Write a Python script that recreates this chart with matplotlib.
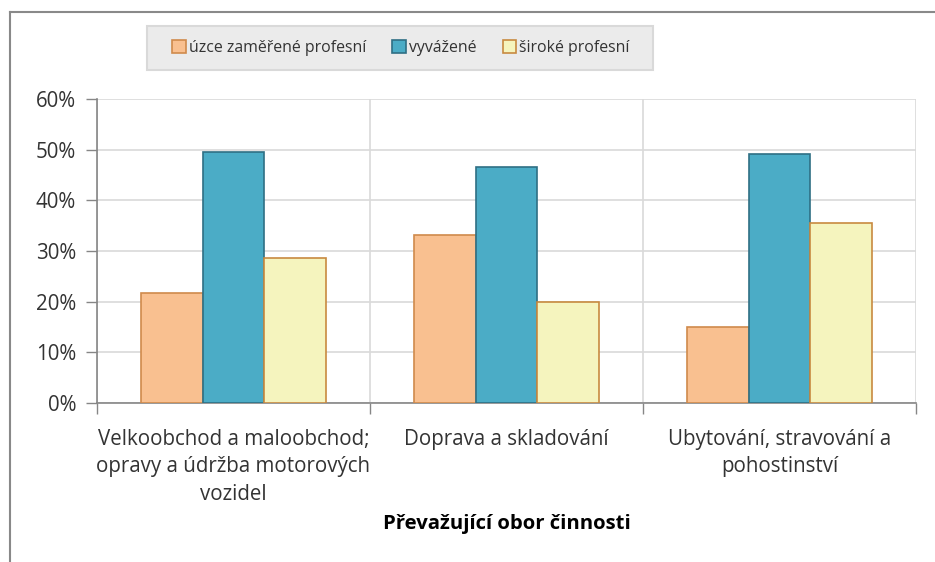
import numpy as np
import matplotlib
matplotlib.use('Agg')
import matplotlib.pyplot as plt
from matplotlib.lines import Line2D
from matplotlib.patches import Rectangle
from matplotlib.ticker import FuncFormatter

plt.rcParams['font.family'] = ['Open Sans', 'DejaVu Sans']

# data (shares, in %)
categories = ['Velkoobchod a maloobchod;\nopravy a údržba motorových\nvozidel',
              'Doprava a skladování',
              'Ubytování, stravování a\npohostinství']
series_names = ['úzce zaměřené profesní', 'vyvážené', 'široké profesní']
uzce = [21.7, 33.2, 15.0]
vyvazene = [49.6, 46.6, 49.1]
siroke = [28.6, 20.0, 35.5]

fills = ['#F9C090', '#4BACC6', '#F5F4BE']
edges = ['#D08A4C', '#2F6F84', '#C88A40']
txt = '#333333'

fig = plt.figure(figsize=(9.35, 5.62), dpi=100)
ax = fig.add_axes([0.1037, 0.2829, 0.876, 0.5409])

x = np.arange(len(categories))
w = 0.225
for i, vals in enumerate([uzce, vyvazene, siroke]):
    ax.bar(x + (i - 1) * w, vals, w, color=fills[i], edgecolor=edges[i],
           linewidth=1.2, label=series_names[i], zorder=3)

ax.set_xlim(-0.5, len(categories) - 0.5)
ax.set_ylim(0, 60)
ax.set_yticks(np.arange(0, 61, 10))
ax.yaxis.set_major_formatter(FuncFormatter(lambda v, p: '%d%%' % v))

ax.set_xticks(np.arange(-0.5, len(categories)), minor=False)
ax.set_xticklabels([])
ax.set_xticks(x, minor=True)
ax.set_xticklabels(categories, minor=True, fontsize=14.8, color=txt,
                   linespacing=1.38)
ax.tick_params(axis='x', which='minor', length=0, pad=19)
ax.tick_params(axis='x', which='major', length=8, color='#868686', width=1)
ax.tick_params(axis='y', length=8, color='#868686', width=1, labelsize=14.8,
               labelcolor=txt, pad=7)

ax.grid(True, which='major', color='#D9D9D9', linewidth=1.2, zorder=0)
ax.set_axisbelow(True)
for s in ['top', 'right']:
    ax.spines[s].set_visible(False)
for s in ['left', 'bottom']:
    ax.spines[s].set_color('#868686')
    ax.spines[s].set_linewidth(1.2)

ax.set_xlabel('Převažující obor činnosti', fontsize=14.6, fontweight='bold',
              color='black', labelpad=7)

# legend box
fig.add_artist(Rectangle((147 / 935, 1 - 70 / 562), 506 / 935, 44 / 562,
                         transform=fig.transFigure, facecolor='#EBEBEB',
                         edgecolor='#D9D9D9', linewidth=1.5))
leg = fig.legend(loc='center', bbox_to_anchor=(401 / 935, 1 - 48 / 562), ncol=3,
                 fontsize=11.4, frameon=False, handlelength=0.85,
                 handleheight=0.85, handletextpad=0.2, columnspacing=1.65)
for t in leg.get_texts():
    t.set_color(txt)

# outer chart frame (only top and left visible)
fig.add_artist(Line2D([10 / 935, 1], [1 - 12 / 562, 1 - 12 / 562],
                      transform=fig.transFigure, color='#898989', linewidth=1.5))
fig.add_artist(Line2D([10 / 935, 10 / 935], [0, 1 - 12 / 562],
                      transform=fig.transFigure, color='#898989', linewidth=1.5))

fig.savefig('out.png', dpi=100)
